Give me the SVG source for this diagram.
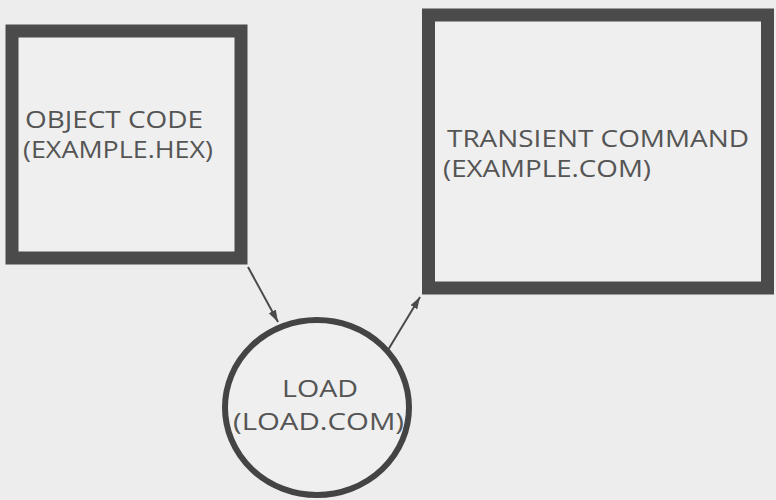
<svg xmlns="http://www.w3.org/2000/svg" width="776" height="500" viewBox="0 0 776 500">
  <style>
    .box { fill: #efefef; stroke: #4b4b4b; stroke-width: 13; }
    .ring { fill: #efefef; stroke: #444; stroke-width: 6; }
    .label { font-family: "Open Sans", "Liberation Sans", sans-serif; fill: #555; }
    .edge { stroke: #4a4a4a; stroke-width: 2; fill: none; marker-end: url(#head); }
  </style>
  <defs>
    <marker id="head" viewBox="0 0 12 8" refX="12" refY="4" markerWidth="12" markerHeight="8" markerUnits="userSpaceOnUse" orient="auto">
      <path d="M0,0 L12,4 L0,8 Z" fill="#4a4a4a"/>
    </marker>
  </defs>
  <rect width="776" height="500" fill="#ededed"/>

  <g id="object-code">
    <rect class="box" x="12" y="31" width="229" height="227"/>
    <text class="label" font-size="23">
      <tspan x="25" y="128" textLength="178" lengthAdjust="spacingAndGlyphs">OBJECT CODE</tspan>
      <tspan x="23" y="158" textLength="190" lengthAdjust="spacingAndGlyphs">(EXAMPLE.HEX)</tspan>
    </text>
  </g>

  <g id="transient-command">
    <rect class="box" x="428.5" y="15" width="339" height="273"/>
    <text class="label" font-size="24">
      <tspan x="447" y="147" textLength="302" lengthAdjust="spacingAndGlyphs">TRANSIENT COMMAND</tspan>
      <tspan x="443" y="177" textLength="208" lengthAdjust="spacingAndGlyphs">(EXAMPLE.COM)</tspan>
    </text>
  </g>

  <g id="load">
    <ellipse class="ring" cx="317" cy="407.5" rx="92" ry="87.5"/>
    <text class="label" font-size="24">
      <tspan x="282" y="397" textLength="76" lengthAdjust="spacingAndGlyphs">LOAD</tspan>
      <tspan x="233" y="430" textLength="171" lengthAdjust="spacingAndGlyphs">(LOAD.COM)</tspan>
    </text>
  </g>

  <g id="connectors">
    <line class="edge" x1="248" y1="267" x2="278" y2="322"/>
    <line class="edge" x1="388" y1="350" x2="420" y2="297"/>
  </g>
</svg>
